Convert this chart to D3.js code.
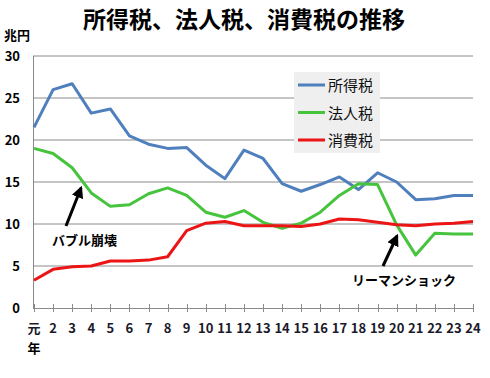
<!DOCTYPE html>
<html>
<head>
<meta charset="utf-8">
<script src="https://cdn.jsdelivr.net/npm/d3@7.9.0/dist/d3.min.js"></script>
<style>
  body { margin: 0; background: #fff; }
  svg { font-family: "Noto Sans CJK JP", "Noto Sans", sans-serif; }
</style>
</head>
<body>
<svg id="chart" width="490" height="378"></svg>
<script>
// 平成元年〜24年
const years = ['元', '2', '3', '4', '5', '6', '7', '8', '9', '10', '11', '12',
  '13', '14', '15', '16', '17', '18', '19', '20', '21', '22', '23', '24'];
const incomeTax = [21.5, 26.0, 26.7, 23.2, 23.7, 20.5, 19.5, 19.0, 19.1, 17.0, 15.4, 18.8,
  17.8, 14.8, 13.9, 14.7, 15.6, 14.1, 16.1, 15.0, 12.9, 13.0, 13.4, 13.4];
const corporateTax = [19.0, 18.4, 16.7, 13.7, 12.1, 12.3, 13.6, 14.3, 13.4, 11.4, 10.8, 11.6,
  10.2, 9.5, 10.1, 11.4, 13.4, 14.8, 14.7, 9.9, 6.3, 8.9, 8.8, 8.8];
const consumptionTax = [3.3, 4.6, 4.9, 5.0, 5.6, 5.6, 5.7, 6.1, 9.2, 10.1, 10.3, 9.8,
  9.8, 9.8, 9.7, 10.0, 10.6, 10.5, 10.2, 9.9, 9.8, 10.0, 10.1, 10.3];
const yTicks = [0, 5, 10, 15, 20, 25, 30];

const series = [
  { name: '所得税', values: incomeTax, color: '#4f7fbd' },
  { name: '法人税', values: corporateTax, color: '#46c43e' },
  { name: '消費税', values: consumptionTax, color: '#ec1515' }
];

const svg = d3.select('#chart');
const x = d3.scalePoint().domain(years).range([34, 473]);
const y = d3.scaleLinear().domain([0, 30]).range([308, 56]);

// title
svg.append('text')
  .attr('x', 244).attr('y', 28)
  .attr('text-anchor', 'middle')
  .attr('font-size', 23).attr('font-weight', 'bold')
  .text('所得税、法人税、消費税の推移');

svg.append('text')
  .attr('x', 4).attr('y', 40)
  .attr('font-size', 13).attr('font-weight', 'bold')
  .text('兆円');

// gridlines
svg.append('g').selectAll('line').data(yTicks.filter(d => d > 0)).join('line')
  .attr('x1', 33).attr('x2', 473)
  .attr('y1', d => y(d)).attr('y2', d => y(d))
  .attr('stroke', '#8a8a8a').attr('stroke-width', 1);

// y labels
svg.append('g').selectAll('text').data(yTicks).join('text')
  .attr('x', 20).attr('y', d => y(d) + 5)
  .attr('text-anchor', 'end')
  .attr('font-size', 13).attr('font-weight', 'bold')
  .text(d => d);

// axes lines
svg.append('line').attr('x1', 33.5).attr('x2', 33.5).attr('y1', y(30)).attr('y2', y(0))
  .attr('stroke', '#8a8a8a');
svg.append('line').attr('x1', 33).attr('x2', 473).attr('y1', y(0) + 0.5).attr('y2', y(0) + 0.5)
  .attr('stroke', '#8a8a8a');
svg.append('g').selectAll('line').data(years).join('line')
  .attr('x1', d => Math.round(x(d)) + 0.5).attr('x2', d => Math.round(x(d)) + 0.5)
  .attr('y1', y(0) - 4).attr('y2', y(0) + 4)
  .attr('stroke', '#8a8a8a');

// x labels
svg.append('g').selectAll('text').data(years).join('text')
  .attr('x', d => x(d)).attr('y', 333)
  .attr('text-anchor', 'middle')
  .attr('font-size', 13).attr('font-weight', 'bold')
  .attr('fill', '#1a1a2a')
  .text(d => d);
svg.append('text')
  .attr('x', x('元')).attr('y', 353)
  .attr('text-anchor', 'middle')
  .attr('font-size', 13).attr('font-weight', 'bold')
  .text('年');

// legend box (covers gridlines)
const lg = svg.append('g');
lg.append('rect').attr('x', 294).attr('y', 72).attr('width', 86).attr('height', 81)
  .attr('fill', '#efefef');
series.forEach((s, i) => {
  const ly = 85 + i * 27.5;
  lg.append('line').attr('x1', 298).attr('x2', 325).attr('y1', ly).attr('y2', ly)
    .attr('stroke', s.color).attr('stroke-width', 3);
  lg.append('text').attr('x', 328).attr('y', ly + 6)
    .attr('font-size', 15).attr('fill', '#111')
    .text(s.name);
});

// lines
const line = d3.line().x((d, i) => x(years[i])).y(d => y(d));
series.forEach(s => {
  svg.append('path').datum(s.values)
    .attr('d', line)
    .attr('fill', 'none')
    .attr('stroke', s.color)
    .attr('stroke-width', 3)
    .attr('stroke-linejoin', 'round');
});

// annotations
svg.append('defs').append('marker')
  .attr('id', 'head').attr('viewBox', '0 0 10 10')
  .attr('refX', 8).attr('refY', 5)
  .attr('markerWidth', 4).attr('markerHeight', 4)
  .attr('orient', 'auto')
  .append('path').attr('d', 'M0,0L10,5L0,10z').attr('fill', '#000');

const notes = [
  { text: 'バブル崩壊', tx: 52, ty: 245, from: [66, 226], to: [81, 188] },
  { text: 'リーマンショック', tx: 352, ty: 285, from: [383, 266], to: [397, 236] }
];
notes.forEach(n => {
  svg.append('line')
    .attr('x1', n.from[0]).attr('y1', n.from[1])
    .attr('x2', n.to[0]).attr('y2', n.to[1])
    .attr('stroke', '#000').attr('stroke-width', 3)
    .attr('marker-end', 'url(#head)');
  svg.append('text').attr('x', n.tx).attr('y', n.ty)
    .attr('font-size', 13).attr('font-weight', 'bold')
    .text(n.text);
});
</script>
</body>
</html>
